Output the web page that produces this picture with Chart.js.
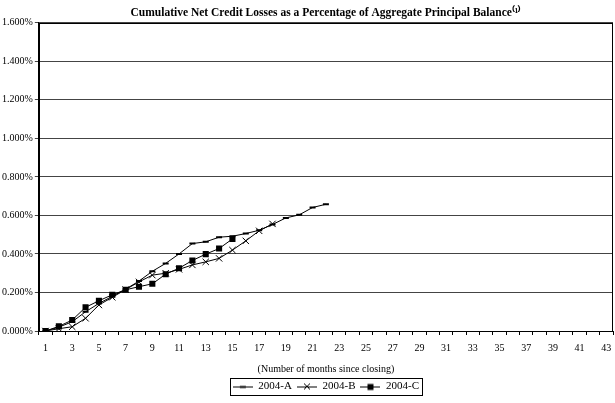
<!DOCTYPE html>
<html>
<head>
<meta charset="utf-8">
<script src="https://cdn.jsdelivr.net/npm/chart.js@4"></script>
<style>
html,body{margin:0;padding:0;background:#fff;}
#wrap{width:615px;height:403px;}
</style>
</head>
<body>
<div id="wrap"><canvas id="c" width="615" height="403"></canvas></div>
<script>
const months = Array.from({length: 43}, (_, i) => String(i + 1));
const yTicks = [0, 0.2, 0.4, 0.6, 0.8, 1.0, 1.2, 1.4, 1.6];
const seriesNames = ['2004-A', '2004-B', '2004-C'];
const s2004A = [0, 0.02, 0.048, 0.10, 0.143, 0.18, 0.217, 0.259, 0.31, 0.351, 0.40, 0.454, 0.463, 0.487, 0.492, 0.506, 0.523, 0.553, 0.587, 0.603, 0.641, 0.658];
const s2004B = [0, 0.012, 0.022, 0.066, 0.135, 0.175, 0.215, 0.255, 0.29, 0.30, 0.32, 0.343, 0.359, 0.377, 0.42, 0.468, 0.52, 0.556];
const s2004C = [0, 0.024, 0.057, 0.123, 0.157, 0.188, 0.214, 0.23, 0.245, 0.295, 0.326, 0.366, 0.399, 0.428, 0.478];

const SERIF = "'Liberation Serif', 'Times New Roman', serif";

function legendIcon(style) {
  const cv = document.createElement('canvas');
  cv.width = 20; cv.height = 10;
  const g = cv.getContext('2d');
  g.strokeStyle = '#000'; g.fillStyle = '#000'; g.lineWidth = 1;
  g.beginPath(); g.moveTo(0, 5.5); g.lineTo(20, 5.5); g.stroke();
  if (style === 'cross') {
    g.beginPath(); g.moveTo(7, 2); g.lineTo(13, 8); g.moveTo(13, 2); g.lineTo(7, 8); g.stroke();
  } else if (style === 'rect') {
    g.fillRect(7, 2.5, 6, 6);
  } else {
    g.lineWidth = 2; g.beginPath(); g.moveTo(7, 5.5); g.lineTo(13, 5.5); g.stroke();
  }
  return cv;
}

const frame = {
  id: 'frame',
  afterDraw(chart) {
    const ctx = chart.ctx, a = chart.chartArea;
    ctx.save();
    ctx.strokeStyle = '#000'; ctx.lineWidth = 1;
    ctx.strokeRect(Math.round(a.left) + 0.5, Math.round(a.top) + 0.5, Math.round(a.right - a.left) - 1, Math.round(a.bottom - a.top));
    const lg = chart.legend;
    if (lg && lg.legendHitBoxes && lg.legendHitBoxes.length) {
      const hb = lg.legendHitBoxes;
      const l = Math.min(...hb.map(h => h.left)) - 3;
      const r = Math.max(...hb.map(h => h.left + h.width)) + 3;
      const t = Math.min(...hb.map(h => h.top)) - 3;
      const b = Math.max(...hb.map(h => h.top + h.height)) + 3;
      ctx.strokeRect(Math.round(l) + 0.5, Math.round(t) + 0.5, Math.round(r - l), Math.round(b - t));
    }
    ctx.restore();
  }
};

const common = { borderColor: '#000', backgroundColor: '#000', borderWidth: 1, tension: 0, fill: false, pointBorderColor: '#000', pointBackgroundColor: '#000' };

new Chart(document.getElementById('c'), {
  type: 'line',
  data: {
    labels: months,
    datasets: [
      Object.assign({ label: seriesNames[0], data: s2004A, pointStyle: 'line', pointRadius: 3, pointBorderWidth: 2 }, common),
      Object.assign({ label: seriesNames[1], data: s2004B, pointStyle: 'crossRot', pointRadius: 4.5, pointBorderWidth: 1 }, common),
      Object.assign({ label: seriesNames[2], data: s2004C, pointStyle: 'rect', pointRadius: 4.3, pointBorderWidth: 0 }, common)
    ]
  },
  options: {
    responsive: false,
    animation: false,
    events: [],
    layout: { autoPadding: false, padding: { left: 0, right: 2, top: 6, bottom: 1 } },
    plugins: {
      title: {
        display: true,
        fullSize: false,
        text: 'Cumulative Net Credit Losses as a Percentage of Aggregate Principal Balance⁽¹⁾',
        color: '#000',
        font: { family: SERIF, size: 11.5, weight: 'bold' },
        padding: { top: 0, bottom: 3 }
      },
      legend: {
        position: 'bottom',
        fullSize: false,
        labels: {
          color: '#000',
          font: { family: SERIF, size: 11 },
          usePointStyle: true,
          pointStyleWidth: 20,
          boxHeight: 10,
          padding: 5,
          generateLabels(chart) {
            const styles = ['line', 'cross', 'rect'];
            return chart.data.datasets.map((d, i) => ({
              text: d.label, datasetIndex: i, pointStyle: legendIcon(styles[i]),
              fillStyle: '#000', strokeStyle: '#000', lineWidth: 0, fontColor: '#000', hidden: false
            }));
          }
        }
      },
      tooltip: { enabled: false }
    },
    scales: {
      x: {
        type: 'category',
        offset: true,
        afterFit(scale) { scale.paddingLeft = 0; scale.paddingRight = 0; },
        grid: { offset: true, drawOnChartArea: false, drawTicks: true, tickLength: 4, color: '#000' },
        border: { color: '#000', width: 1 },
        ticks: {
          color: '#000', font: { family: SERIF, size: 10 }, autoSkip: false, maxRotation: 0, padding: 7,
          callback(v, i) { return i % 2 === 0 ? months[i] : ''; }
        },
        title: { display: true, text: '(Number of months since closing)', color: '#000', font: { family: SERIF, size: 10 }, padding: { top: 2, bottom: 1 } }
      },
      y: {
        min: 0, max: 1.6,
        afterBuildTicks(scale) { scale.ticks = yTicks.map(v => ({ value: v })); },
        grid: { color: '#444', tickLength: 4, drawTicks: true },
        border: { color: '#000', width: 1 },
        ticks: { color: '#000', font: { family: SERIF, size: 10 }, padding: 2, callback(v) { return v.toFixed(3) + '%'; } }
      }
    }
  },
  plugins: [frame]
});
</script>
</body>
</html>
